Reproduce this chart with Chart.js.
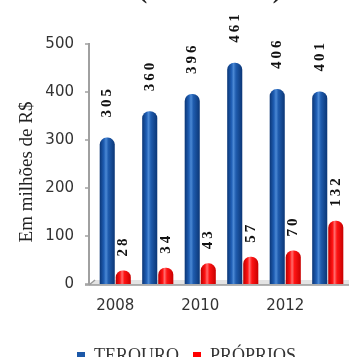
<!DOCTYPE html>
<html><head><meta charset="utf-8">
<script src="https://cdn.jsdelivr.net/npm/chart.js@4/dist/chart.umd.min.js"></script>
<style>
html,body{margin:0;padding:0;overflow:hidden;background:#fff;width:349px;height:357px}
#wrap{position:absolute;left:0;top:0;width:349px;height:380px}
</style></head>
<body><div id="wrap"><canvas id="c" width="349" height="380"></canvas></div>
<script>
const years = ['2008','2009','2010','2011','2012','2013'];
const terouro = [305,360,396,461,406,401];
const proprios = [28,34,43,57,70,132];
const seriesNames = ['TEROURO','PRÓPRIOS'];
const yTitle = 'Em milhões de R$';
const chartTitle = '(2008 - 2013)';

const gradStops = [
  [[0,'#0b3676'],[0.28,'#1f5eb4'],[0.42,'#4a88d4'],[0.58,'#1f5cae'],[1,'#0b3676']],
  [[0,'#bb0000'],[0.28,'#ff1212'],[0.42,'#ff6c6c'],[0.58,'#ff1414'],[1,'#c80000']]
];
const labelGap = [20, 14];

const cylPlugin = {
  id:'cyl',
  beforeDatasetsDraw(chart){
    const ctx = chart.ctx;
    chart.data.datasets.forEach((ds,i)=>{
      chart.getDatasetMeta(i).data.forEach(el=>{
        const w = el.width;
        const g = ctx.createLinearGradient(el.x-w/2,0,el.x+w/2,0);
        gradStops[i].forEach(s=>g.addColorStop(s[0],s[1]));
        el.options = Object.assign({}, el.options, {backgroundColor:g});
      });
    });
  }
};

const decoPlugin = {
  id:'deco',
  beforeDatasetsDraw(chart){
    const ctx = chart.ctx, a = chart.chartArea, y = chart.scales.y;
    const ax = a.left - 5;
    ctx.save();
    ctx.fillStyle = '#e4e4e4';
    ctx.beginPath();
    ctx.moveTo(ax, a.bottom+1); ctx.lineTo(ax+6, a.bottom-4);
    ctx.lineTo(a.right, a.bottom-4); ctx.lineTo(a.right, a.bottom+1);
    ctx.closePath(); ctx.fill();
    ctx.strokeStyle = '#9a9a9a'; ctx.lineWidth = 1.5;
    ctx.beginPath(); ctx.moveTo(ax-4, a.bottom+1); ctx.lineTo(a.right, a.bottom+1); ctx.stroke();
    ctx.beginPath(); ctx.moveTo(ax, a.bottom+1); ctx.lineTo(ax+6, a.bottom-4); ctx.stroke();
    ctx.strokeStyle = '#a0a0a0'; ctx.lineWidth = 2;
    ctx.beginPath(); ctx.moveTo(ax, a.top-1); ctx.lineTo(ax, a.bottom+1); ctx.stroke();
    ctx.lineWidth = 1.5;
    y.ticks.forEach(t=>{
      const py = y.getPixelForValue(t.value);
      ctx.beginPath(); ctx.moveTo(ax-4, py); ctx.lineTo(ax, py); ctx.stroke();
    });
    ctx.restore();
  },
  afterDatasetsDraw(chart){
    const ctx = chart.ctx;
    chart.data.datasets.forEach((ds,i)=>{
      chart.getDatasetMeta(i).data.forEach((el,j)=>{
        ctx.save();
        ctx.translate(el.x, el.y - labelGap[i]);
        ctx.rotate(-Math.PI/2);
        ctx.font = 'bold 15px "Liberation Serif"';
        ctx.letterSpacing = '3px';
        ctx.textAlign = 'left'; ctx.textBaseline = 'middle';
        ctx.fillStyle = '#111';
        ctx.fillText(String(ds.data[j]), 0, 0);
        ctx.restore();
      });
    });
  },
  afterDraw(chart){
    const ctx = chart.ctx;
    ctx.save();
    ctx.translate(27, 172);
    ctx.rotate(-Math.PI/2);
    ctx.font = '19px "Liberation Serif"';
    ctx.textAlign = 'center'; ctx.textBaseline = 'middle';
    ctx.fillStyle = '#222';
    ctx.fillText(yTitle, 0, 0);
    ctx.restore();
    ctx.save();
    ctx.font = 'bold 26px "Liberation Serif"';
    ctx.textAlign = 'center'; ctx.textBaseline = 'alphabetic';
    ctx.fillStyle = '#222';
    ctx.fillText(chartTitle, 210, -2);
    ctx.restore();
  }
};

new Chart(document.getElementById('c'), {
  type:'bar',
  data:{
    labels: years,
    datasets:[
      {label:seriesNames[0], data:terouro, backgroundColor:'#1c58a8', borderRadius:{topLeft:7,topRight:7}, borderSkipped:'bottom', categoryPercentage:0.755, barPercentage:0.94},
      {label:seriesNames[1], data:proprios, backgroundColor:'#ff0000', borderRadius:{topLeft:7,topRight:7}, borderSkipped:'bottom', categoryPercentage:0.755, barPercentage:0.94}
    ]
  },
  options:{
    responsive:false, animation:false,
    layout:{padding:{top:44,left:24,right:0,bottom:5}},
    plugins:{
      legend:{position:'bottom', labels:{font:{family:'Liberation Serif', size:18}, color:'#333', boxWidth:8, boxHeight:8, padding:14}},
      tooltip:{enabled:false}
    },
    scales:{
      x:{grid:{display:false, drawTicks:false}, border:{display:false},
         ticks:{font:{family:'DejaVu Sans', size:15}, color:'#333', padding:13, autoSkip:false, maxRotation:0,
                callback:(v,i)=> i%2===0 ? years[i] : ''},
         afterFit:s=>{s.height=49}},
      y:{min:0, max:500, grid:{display:false, drawTicks:false}, border:{display:false},
         ticks:{stepSize:100, font:{family:'DejaVu Sans', size:15}, color:'#333', padding:20},
         afterFit:s=>{s.width=70}}
    }
  },
  plugins:[cylPlugin, decoPlugin]
});
</script>
</body></html>
